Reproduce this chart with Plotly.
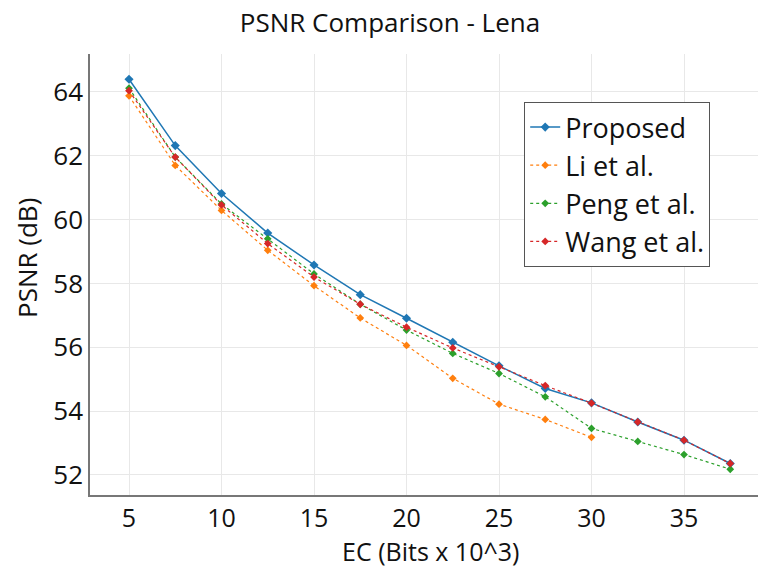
import plotly.graph_objects as go

ec = [5, 7.5, 10, 12.5, 15, 17.5, 20, 22.5, 25, 27.5, 30, 32.5, 35, 37.5]
proposed = [64.40, 62.32, 60.82, 59.58, 58.58, 57.65, 56.91, 56.16, 55.42, 54.71, 54.26, 53.66, 53.09, 52.36]
ec_li = [5, 7.5, 10, 12.5, 15, 17.5, 20, 22.5, 25, 27.5, 30]
li = [63.88, 61.70, 60.29, 59.04, 57.93, 56.92, 56.06, 55.03, 54.22, 53.74, 53.18]
peng = [64.12, 61.96, 60.49, 59.40, 58.30, 57.35, 56.54, 55.81, 55.18, 54.45, 53.46, 53.05, 52.64, 52.18]
wang = [64.04, 61.96, 60.46, 59.25, 58.20, 57.35, 56.63, 55.98, 55.39, 54.80, 54.25, 53.66, 53.09, 52.36]

colors = ["#1f77b4", "#ff7f0e", "#2ca02c", "#d62728"]
font = "Open Sans, sans-serif"

fig = go.Figure()
fig.add_trace(go.Scatter(x=ec, y=proposed, name="Proposed", mode="lines+markers",
                         line=dict(color=colors[0], width=1.5),
                         marker=dict(symbol="diamond", size=7, color=colors[0])))
fig.add_trace(go.Scatter(x=ec_li, y=li, name="Li et al.", mode="lines+markers",
                         line=dict(color=colors[1], width=1.2, dash="dot"),
                         marker=dict(symbol="diamond", size=6, color=colors[1])))
fig.add_trace(go.Scatter(x=ec, y=peng, name="Peng et al.", mode="lines+markers",
                         line=dict(color=colors[2], width=1.2, dash="dot"),
                         marker=dict(symbol="diamond", size=6, color=colors[2])))
fig.add_trace(go.Scatter(x=ec, y=wang, name="Wang et al.", mode="lines+markers",
                         line=dict(color=colors[3], width=1.2, dash="dot"),
                         marker=dict(symbol="diamond", size=6, color=colors[3])))

fig.update_layout(
    width=758, height=567,
    margin=dict(l=90, r=0, t=54, b=72),
    paper_bgcolor="white", plot_bgcolor="white",
    font=dict(family=font, color="#111", size=26),
    title=dict(text="PSNR Comparison - Lena", xref="container", x=390/758, xanchor="center",
               y=1 - 23/567, yanchor="middle", font=dict(size=26, family=font, color="#111")),
    showlegend=True,
    legend=dict(x=0.65, y=0.891, xanchor="left", yanchor="top", bgcolor="white",
                bordercolor="#555", borderwidth=1, font=dict(size=27, family=font, color="#111"),
                tracegroupgap=0),
    annotations=[
        dict(text="EC (Bits x 10^3)", xref="paper", yref="paper", x=(430 - 90) / 668, y=(495 - 551) / 441,
             xanchor="center", yanchor="middle", showarrow=False, font=dict(size=25, family=font, color="#111")),
        dict(text="PSNR (dB)", xref="paper", yref="paper", x=(27 - 90) / 668, y=(495 - 258) / 441,
             xanchor="center", yanchor="middle", textangle=-90, showarrow=False,
             font=dict(size=26, family=font, color="#111")),
    ],
)
fig.update_xaxes(range=[2.892, 39.0], tickvals=[5, 10, 15, 20, 25, 30, 35], showgrid=True, gridcolor="#e8e8e8",
                 gridwidth=1, zeroline=False, showline=True, linecolor="#777", linewidth=1.5, ticks="",
                 tickfont=dict(size=25, family=font, color="#111"))
fig.update_yaxes(range=[51.373, 65.19], tickvals=[52, 54, 56, 58, 60, 62, 64], showgrid=True, gridcolor="#e8e8e8",
                 gridwidth=1, zeroline=False, showline=True, linecolor="#777", linewidth=1.5, ticks="",
                 tickfont=dict(size=26, family=font, color="#111"))

fig.write_html("out.html")
